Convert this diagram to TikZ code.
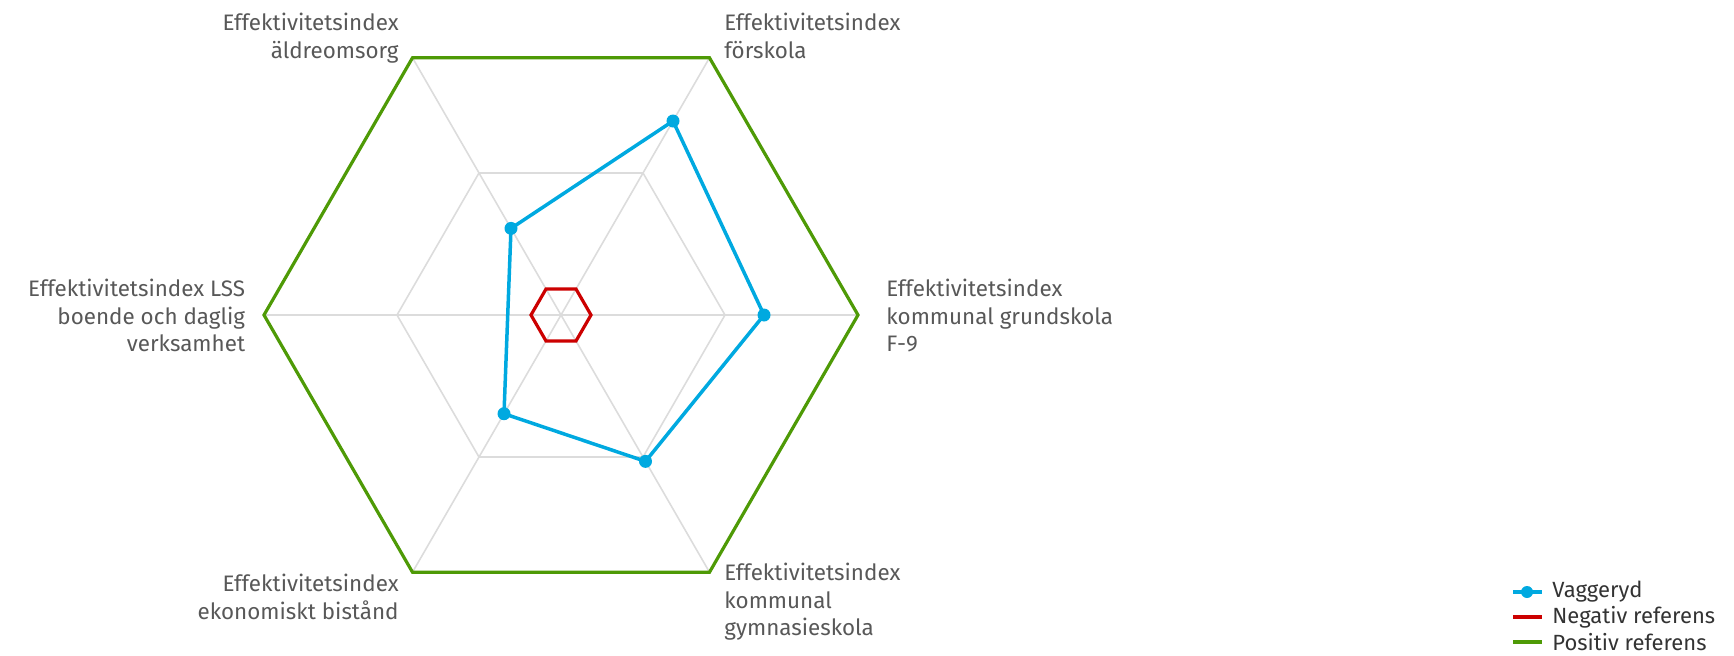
\documentclass[tikz,border=0pt]{standalone}
\usepackage{fontspec}
\setmainfont{Fira Sans}
\usetikzlibrary{positioning}

\definecolor{vagblue}{HTML}{00A9E0}
\definecolor{negred}{HTML}{CC0000}
\definecolor{posgreen}{HTML}{4E9A06}
\definecolor{gridgray}{HTML}{DCDCDC}
\definecolor{labelgray}{HTML}{585858}
\definecolor{legendgray}{HTML}{333333}

\tikzset{
  gridline/.style={line width=0.8pt, color=gridgray},
  posline/.style={line width=1.6pt, color=posgreen},
  negline/.style={line width=1.6pt, color=negred},
  vagline/.style={line width=1.75pt, color=vagblue, line join=round},
  axislabel/.style={inner sep=0pt, text=labelgray, font=\fontsize{11.2}{13.75}\selectfont},
  legendtext/.style={inner sep=0pt, text=legendgray, font=\fontsize{11}{12.5}\selectfont}
}

\begin{document}
\begin{tikzpicture}[x=0.5pt, y=0.5pt]
			%%%%% START %%%%%
			\useasboundingbox (0, 0) rectangle (1734, 655);
			
			\coordinate (c) at (561, 340);
			
			% axis ends
			\path (c) ++(120:297) coordinate (ax1);
			\path (c) ++(60:297) coordinate (ax2);
			\path (c) ++(0:297) coordinate (ax3);
			\path (c) ++(-60:297) coordinate (ax4);
			\path (c) ++(-120:297) coordinate (ax5);
			\path (c) ++(180:297) coordinate (ax6);
			
			% middle ring
			\path (c) ++(120:164) coordinate (g1);
			\path (c) ++(60:164) coordinate (g2);
			\path (c) ++(0:164) coordinate (g3);
			\path (c) ++(-60:164) coordinate (g4);
			\path (c) ++(-120:164) coordinate (g5);
			\path (c) ++(180:164) coordinate (g6);
			
			% negative reference
			\path (c) ++(120:30) coordinate (n1);
			\path (c) ++(60:30) coordinate (n2);
			\path (c) ++(0:30) coordinate (n3);
			\path (c) ++(-60:30) coordinate (n4);
			\path (c) ++(-120:30) coordinate (n5);
			\path (c) ++(180:30) coordinate (n6);
			
			% Vaggeryd values (LSS has none)
			\path (c) ++(120:100) coordinate (v1);
			\path (c) ++(60:224) coordinate (v2);
			\path (c) ++(0:203) coordinate (v3);
			\path (c) ++(-60:169) coordinate (v4);
			\path (c) ++(-120:114) coordinate (v5);
			
			\draw[gridline] (c) -- (ax1);
			\draw[gridline] (c) -- (ax2);
			\draw[gridline] (c) -- (ax3);
			\draw[gridline] (c) -- (ax4);
			\draw[gridline] (c) -- (ax5);
			\draw[gridline] (c) -- (ax6);
			\draw[gridline] (g1) -- (g2) -- (g3) -- (g4) -- (g5) -- (g6) -- cycle;
			
			\draw[posline] (ax1) -- (ax2) -- (ax3) -- (ax4) -- (ax5) -- (ax6) -- cycle;
			\draw[negline] (n1) -- (n2) -- (n3) -- (n4) -- (n5) -- (n6) -- cycle;
			
			\draw[vagline] (v1) -- (v2) -- (v3) -- (v4) -- (v5) -- cycle;
			\fill[vagblue] (v1) circle (6.5);
			\fill[vagblue] (v2) circle (6.5);
			\fill[vagblue] (v3) circle (6.5);
			\fill[vagblue] (v4) circle (6.5);
			\fill[vagblue] (v5) circle (6.5);
			
			% axis labels
			\node[axislabel, anchor=north east, align=right] (lab1) at (399, 642) {Effektivitetsindex\\äldreomsorg};
			\node[axislabel, anchor=north west, align=left] (lab2) at (724, 642) {Effektivitetsindex\\förskola};
			\node[axislabel, anchor=north west, align=left] (lab3) at (886, 376) {Effektivitetsindex\\kommunal grundskola\\F-9};
			\node[axislabel, anchor=north west, align=left] (lab4) at (724, 92) {Effektivitetsindex\\kommunal\\gymnasieskola};
			\node[axislabel, anchor=north east, align=right] (lab5) at (399, 81) {Effektivitetsindex\\ekonomiskt bistånd};
			\node[axislabel, anchor=north east, align=right] (lab6) at (245.5, 376) {Effektivitetsindex LSS\\boende och daglig\\verksamhet};
			
			% legend
			\node[legendtext, anchor=west] (leg1) at (1552, 63) {Vaggeryd};
			\node[legendtext, anchor=west] (leg2) at (1552, 38) {Negativ referens};
			\node[legendtext, anchor=west] (leg3) at (1552, 13) {Positiv referens};
			\draw[vagline] ([xshift=-19.5pt]leg1.west) -- ([xshift=-5pt]leg1.west);
			\fill[vagblue] ([xshift=-12.5pt]leg1.west) circle (6);
			\draw[negline] ([xshift=-19.5pt]leg2.west) -- ([xshift=-5pt]leg2.west);
			\draw[posline] ([xshift=-19.5pt]leg3.west) -- ([xshift=-5pt]leg3.west);
			
			%%%%% END %%%%%
		\end{tikzpicture}
\end{document}
